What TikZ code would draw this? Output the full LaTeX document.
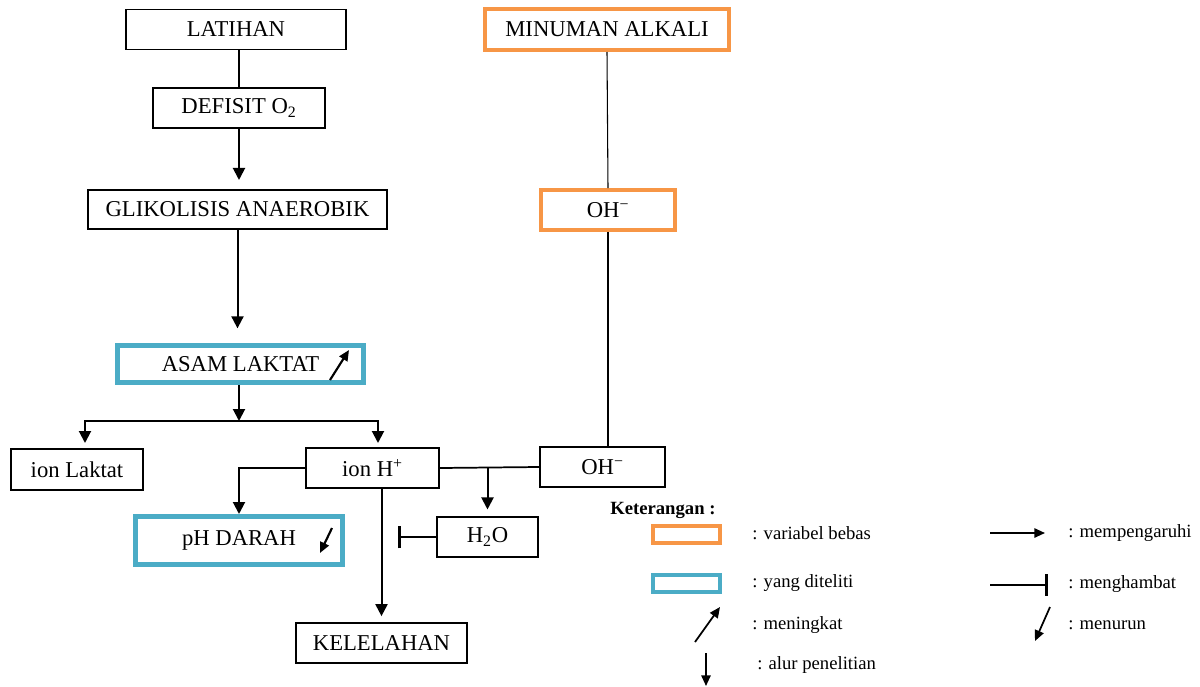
\documentclass[tikz,border=0pt]{standalone}
\usepackage{fontspec}
\setmainfont{Liberation Serif}
\usetikzlibrary{arrows.meta}
\definecolor{orng}{HTML}{F79646}
\definecolor{cyn}{HTML}{4BACC6}
\begin{document}
\begin{tikzpicture}[x=0.75pt,y=-0.75pt,
  box/.style={draw, line width=1.3pt, inner sep=0pt, font=\fontsize{17}{20}\selectfont, minimum height=30pt},
  obox/.style={box, draw=orng, line width=3pt},
  cbox/.style={box, draw=cyn, line width=3.75pt},
  arr/.style={line width=1.5pt, -{Triangle[length=9pt,width=9pt]}},
  sarr/.style={line width=1.6pt, -{Triangle[length=8pt,width=7pt]}},
  ln/.style={line width=1.3pt},
  tee/.style={line width=1.5pt, -{Bar[width=17pt,line width=2.4pt]}},
  lg/.style={font=\fontsize{14}{16}\selectfont, anchor=west, inner sep=0pt},
  lbox/.style={line width=3pt, minimum width=50pt, minimum height=12.75pt, inner sep=0pt}
  ]
\useasboundingbox (0,0) rectangle (1200,686);
% main nodes
\node[box, minimum width=165pt] (lat) at (236,29.5) {LATIHAN};
\node[box, minimum width=129pt] (def) at (239,108) {DEFISIT O\textsubscript{2}};
\node[box, minimum width=224pt, minimum height=29pt] (gli) at (237.5,209.5) {GLIKOLISIS ANAEROBIK};
\node[cbox, minimum width=184.5pt, minimum height=27.75pt] (asam) at (240.5,364) {ASAM LAKTAT};
\node[box, minimum width=99pt, minimum height=30.75pt] (ionl) at (77,469.5) {ion Laktat};
\node[box, minimum width=100pt] (ionh) at (372.5,468) {ion H\textsuperscript{+}};
\node[box, minimum width=94pt] (ohb) at (602.5,467) {OH\textsuperscript{\char"2212}};
\node[cbox, minimum width=155pt, minimum height=36pt] (ph) at (239,540.5) {pH DARAH};
\node[box, minimum width=76pt] (h2o) at (487.5,537) {H\textsubscript{2}O};
\node[box, minimum width=128pt] (kel) at (381.5,643) {KELELAHAN};
\node[obox, minimum width=183pt, minimum height=30.75pt] (min) at (607,29.5) {MINUMAN ALKALI};
\node[obox, minimum width=100.5pt] (oht) at (608,210) {OH\textsuperscript{\char"2212}};
% connectors
\draw[ln] (def.north) -- (def.north |- lat.south);
\draw[arr, shorten >=7pt] (def.south) -- (def.south |- gli.north);
\draw[arr, shorten >=11pt] (gli.south) -- (gli.south |- asam.north);
\coordinate (br) at (239,421);
\coordinate (tl) at (85,443);
\coordinate (th) at (378,443);
\draw[arr] (br |- asam.south) -- (br);
\draw[arr] (br) -| (tl);
\draw[arr] (br) -| (th);
\draw[arr] (ionh.west) -| (ph.north);
\draw[arr, shorten >=4.5pt] (kel.north |- ionh.south) -- (kel.north);
\draw[ln] (ionh.east) -- (ohb.west);
\draw[arr, shorten >=5pt] (h2o.north |- ohb.west) -- (h2o.north);
\coordinate (teeend) at (398,537);
\draw[tee] (h2o.west) -- (teeend);
\draw[line width=0.8pt] (min.south) -- (oht.north);
\draw[ln] (oht.south) -- (oht.south |- ohb.north);
% inline arrows
\coordinate (a1) at (330,380); \coordinate (a2) at (349,350);
\draw[sarr] (a1) -- (a2);
\coordinate (p1) at (332,528); \coordinate (p2) at (320,553);
\draw[sarr] (p1) -- (p2);
% legend
\node[lg, font=\bfseries\fontsize{14}{16}\selectfont] (ket) at (610,510) {Keterangan :};
\node[lbox, draw=orng] (lo) at (686.5,534.5) {};
\node[lbox, draw=cyn] (lc) at (686.5,583.5) {};
\node[lg] (t1) at (752,533) {: variabel bebas};
\node[lg] (t2) at (752,583) {: yang diteliti};
\node[lg] (t3) at (752,625) {: meningkat};
\node[lg] (t4) at (757,665) {: alur penelitian};
\node[lg] (t5) at (1068,533) {: mempengaruhi};
\node[lg] (t6) at (1068,584) {: menghambat};
\node[lg] (t7) at (1068,625) {: menurun};
\coordinate (m1) at (695,642); \coordinate (m2) at (720,607);
\draw[sarr, line width=1.3pt] (m1) -- (m2);
\coordinate (d1) at (706,653); \coordinate (d2) at (706,686);
\draw[sarr, line width=1.3pt] (d1) -- (d2);
\coordinate (r1) at (990,533); \coordinate (r2) at (1045,533);
\draw[sarr, line width=1.3pt] (r1) -- (r2);
\coordinate (h1) at (990,585); \coordinate (h2) at (1048,585);
\draw[line width=1.3pt, -{Bar[width=16pt,line width=2.2pt]}] (h1) -- (h2);
\coordinate (n1) at (1050,607); \coordinate (n2) at (1035,641);
\draw[sarr, line width=1.3pt] (n1) -- (n2);
\end{tikzpicture}
\end{document}
